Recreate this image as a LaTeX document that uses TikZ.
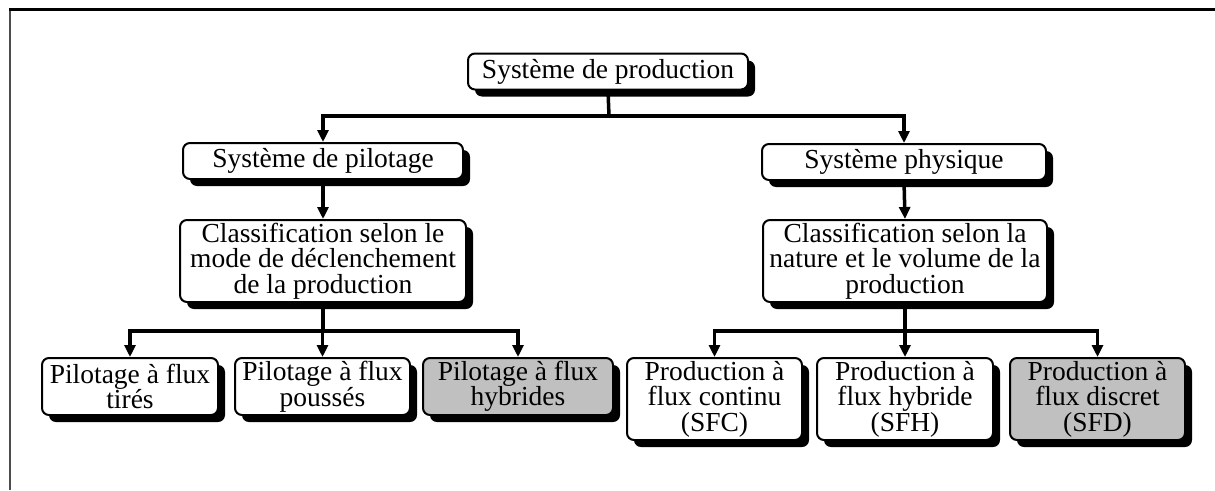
\documentclass[tikz,border=0pt]{standalone}
\usepackage{fontspec}
\setmainfont{Liberation Serif}
\usetikzlibrary{arrows.meta,shadows}
\definecolor{boxgrey}{RGB}{192,192,192}
\tikzset{
  box/.style={
    draw=black,
    line width=2pt,
    rounded corners=7pt,
    fill=white,
    align=center,
    inner sep=2pt,
    font=\fontsize{27.5}{25.5}\selectfont,
    drop shadow={shadow xshift=7pt, shadow yshift=-7pt, fill=black, opacity=1}
  },
  box-grey/.style={box, fill=boxgrey},
  box-one/.style={minimum height=36pt},
  box-three/.style={minimum height=82pt},
  link/.style={line width=3.5pt},
  link-arrow/.style={link, -{Triangle[length=12pt,width=11pt]}}
}

\begin{document}
\begin{tikzpicture}[x=1pt, y=-1pt]
  \useasboundingbox (0,0) rectangle (1215,490);
  % frame edges
  \draw[line width=3pt] (9,9.5) -- (1215,9.5);
  \draw[line width=1.5pt, black!70] (10,11) -- (10,490);
  % top level
  \node[box, box-one, minimum width=280pt] (prod) at (608,71.5) {Système de production};
  % second level
  \node[box, box-one, minimum width=280pt] (pilot) at (323,161) {Système de pilotage};
  \node[box, box-one, minimum width=284pt] (phys) at (904,162) {Système physique};
  % classifications
  \node[box, box-three, minimum width=286pt] (cls-pilot) at (323,261)
    {Classification selon le\\mode de déclenchement\\de la production};
  \node[box, box-three, minimum width=284pt] (cls-phys) at (905,261)
    {Classification selon la\\nature et le volume de la\\production};
  % leaves, pilotage
  \node[box, minimum width=176pt, minimum height=57pt] (tires) at (130,386.5) {Pilotage à flux\\tirés};
  \node[box, minimum width=175pt, minimum height=57pt] (pousses) at (322.5,386.5) {Pilotage à flux\\poussés};
  \node[box-grey, minimum width=190pt, minimum height=57pt] (hybrides) at (518,386.5) {Pilotage à flux\\hybrides};
  % leaves, physique
  \node[box, box-three, minimum width=175pt] (sfc) at (714.5,399) {Production à\\flux continu\\(SFC)};
  \node[box, box-three, minimum width=176pt] (sfh) at (905,399) {Production à\\flux hybride\\(SFH)};
  \node[box-grey, box-three, minimum width=175pt] (sfd) at (1097.5,399) {Production à\\flux discret\\(SFD)};
  % rails
  \coordinate (rail-top) at (609,116);
  \coordinate (rail-pilot) at (323,331);
  \coordinate (rail-phys) at (905,331);
  % connectors
  \draw[link] (prod.south) -- (rail-top);
  \draw[link-arrow] (rail-top) -| (pilot.north);
  \draw[link-arrow] (rail-top) -| (phys.north);
  \draw[link-arrow] (pilot.south) -- (cls-pilot.north);
  \draw[link-arrow] (phys.south) -- (cls-phys.north);
  \draw[link] (cls-pilot.south) -- (rail-pilot);
  \draw[link] (cls-phys.south) -- (rail-phys);
  \foreach \leaf in {tires, pousses, hybrides}
    \draw[link-arrow] (rail-pilot) -| (\leaf.north);
  \foreach \leaf in {sfc, sfh, sfd}
    \draw[link-arrow] (rail-phys) -| (\leaf.north);
\end{tikzpicture}
\end{document}
